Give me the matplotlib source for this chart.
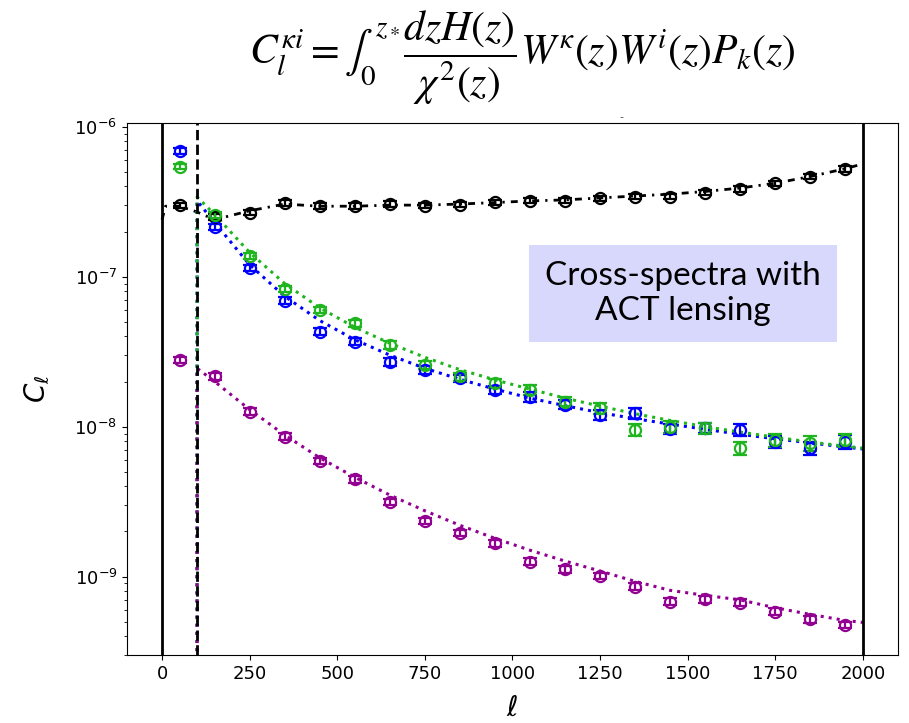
"""Cross-spectra of galaxy samples with ACT lensing, log-scale C_ell vs ell."""

import matplotlib

matplotlib.use("Agg")
import matplotlib.pyplot as plt

# bandpower centres
ell = [50, 150, 250, 350, 450, 550, 650, 750, 850, 950,
       1050, 1150, 1250, 1350, 1450, 1550, 1650, 1750, 1850, 1950]

# measured bandpowers
cl_black = [3.0e-7, 2.5e-7, 2.67e-7, 3.1e-7, 2.96e-7, 2.96e-7, 3.05e-7, 2.97e-7, 3.02e-7, 3.13e-7,
            3.21e-7, 3.21e-7, 3.34e-7, 3.41e-7, 3.41e-7, 3.64e-7, 3.84e-7, 4.19e-7, 4.64e-7, 5.22e-7]
cl_blue = [6.92e-7, 2.14e-7, 1.14e-7, 6.92e-8, 4.3e-8, 3.69e-8, 2.71e-8, 2.39e-8, 2.1e-8, 1.76e-8,
           1.58e-8, 1.40e-8, 1.2e-8, 1.23e-8, 9.65e-9, 9.8e-9, 9.5e-9, 7.94e-9, 7.18e-9, 7.94e-9]
cl_green = [5.41e-7, 2.58e-7, 1.38e-7, 8.28e-8, 6.0e-8, 4.89e-8, 3.51e-8, 2.58e-8, 2.16e-8, 1.95e-8,
            1.76e-8, 1.47e-8, 1.33e-8, 9.5e-9, 1.0e-8, 9.76e-9, 7.18e-9, 8.15e-9, 7.75e-9, 8.15e-9]
cl_purple = [2.78e-8, 2.16e-8, 1.26e-8, 8.58e-9, 5.93e-9, 4.46e-9, 3.16e-9, 2.36e-9, 1.95e-9, 1.67e-9,
             1.26e-9, 1.12e-9, 1.01e-9, 8.58e-10, 6.81e-10, 7.06e-10, 6.71e-10, 5.85e-10, 5.2e-10, 4.76e-10]

# relative error bars
err_black = [0.04] * 20
err_blue = [0.05, 0.05, 0.05, 0.05, 0.05, 0.05, 0.06, 0.06, 0.06, 0.06,
            0.07, 0.07, 0.08, 0.08, 0.08, 0.08, 0.09, 0.09, 0.1, 0.1]
err_green = [0.04, 0.04, 0.05, 0.05, 0.05, 0.05, 0.06, 0.06, 0.06, 0.07,
             0.07, 0.07, 0.08, 0.09, 0.09, 0.09, 0.1, 0.1, 0.11, 0.1]
err_purple = [0.05] * 20

# theory curves
ell_th_black = [0, 10, 50, 100, 150, 250, 350, 450, 550, 650, 750, 850, 950,
                1050, 1150, 1250, 1350, 1450, 1550, 1650, 1750, 1850, 1950, 2000]
th_black = [2.4e-7, 2.95e-7, 2.95e-7, 2.7e-7, 2.4e-7, 2.75e-7, 3.05e-7, 2.95e-7, 2.95e-7, 3.0e-7,
            3.0e-7, 3.05e-7, 3.12e-7, 3.2e-7, 3.25e-7, 3.35e-7, 3.45e-7, 3.55e-7, 3.7e-7, 3.9e-7,
            4.2e-7, 4.65e-7, 5.25e-7, 5.65e-7]
ell_th = [100, 100, 150, 250, 350, 450, 550, 650, 750, 850, 950,
          1050, 1150, 1250, 1350, 1450, 1550, 1650, 1750, 1850, 1950, 2000]
th_blue = [1e-12, 3.2e-7, 2.3e-7, 1.2e-7, 7.4e-8, 5.1e-8, 3.8e-8, 3.0e-8, 2.45e-8, 2.07e-8, 1.78e-8,
           1.55e-8, 1.38e-8, 1.24e-8, 1.13e-8, 1.04e-8, 9.6e-9, 8.9e-9, 8.3e-9, 7.8e-9, 7.3e-9, 7.1e-9]
th_green = [1e-12, 3.4e-7, 2.6e-7, 1.45e-7, 9.0e-8, 6.2e-8, 4.6e-8, 3.6e-8, 2.9e-8, 2.4e-8, 2.05e-8,
            1.78e-8, 1.55e-8, 1.37e-8, 1.22e-8, 1.1e-8, 1.0e-8, 9.2e-9, 8.5e-9, 7.9e-9, 7.4e-9, 7.2e-9]
th_purple = [1e-12, 2.45e-8, 2.0e-8, 1.3e-8, 8.8e-9, 6.2e-9, 4.6e-9, 3.5e-9, 2.75e-9, 2.2e-9, 1.8e-9,
             1.5e-9, 1.27e-9, 1.09e-9, 9.3e-10, 8.1e-10, 7.5e-10, 7.0e-10, 6.2e-10, 5.6e-10, 5.1e-10, 4.95e-10]

GREEN = "#1fb51f"
PURPLE = "#920092"

fig = plt.figure(figsize=(9.09, 7.23), dpi=100)
ax = fig.add_axes([0.1397, 0.094, 0.848, 0.736])

ax.plot(ell_th_black, th_black, color="k", ls=(0, (2.5, 2.2, 0.8, 2.2)), lw=2)
ax.plot(ell_th, th_blue, color="b", ls=":", lw=2.2)
ax.plot(ell_th, th_green, color=GREEN, ls=":", lw=2.2)
ax.plot(ell_th, th_purple, color=PURPLE, ls=":", lw=2.2)

ax.axvline(0, color="k", lw=2)
ax.axvline(2000, color="k", lw=2)
ax.axvline(100, color="k", lw=2, ls="--")

for cl, err, col in [(cl_black, err_black, "k"), (cl_purple, err_purple, PURPLE),
                     (cl_blue, err_blue, "b"), (cl_green, err_green, GREEN)]:
    yerr = [c * e for c, e in zip(cl, err)]
    ax.errorbar(ell, cl, yerr=yerr, fmt="o", mfc="none", mec=col, ecolor=col,
                ms=8, mew=1.6, elinewidth=1.6, capsize=5, capthick=1.6)

ax.set_yscale("log")
ax.set_xlim(-100, 2100)
ax.set_ylim(3.0e-10, 1.06e-6)
ax.set_xticks([0, 250, 500, 750, 1000, 1250, 1500, 1750, 2000])
ax.tick_params(labelsize=13)
ax.set_xlabel(r"$\ell$", fontsize=20, labelpad=8)
ax.set_ylabel(r"$C_\ell$", fontsize=20, labelpad=16)

ax.text(0.721, 0.68, "Cross-spectra with\nACT lensing", transform=ax.transAxes,
        ha="center", va="center", fontsize=24, family="Lato", linespacing=1.2,
        bbox=dict(boxstyle="square,pad=0.48", fc="#d8d8fc", ec="none"))

fig.text(0.574, 0.921,
         r"$C_l^{\kappa i} = \int_0^{z_*} \dfrac{dzH(z)}{\chi^2(z)}W^\kappa(z)W^i(z)P_k(z)$",
         ha="center", va="center", fontsize=30, math_fontfamily="stix")
fig.text(0.684, 0.838, "-", ha="center", va="center", fontsize=8, color="0.3")

fig.savefig("out.png", dpi=100)
